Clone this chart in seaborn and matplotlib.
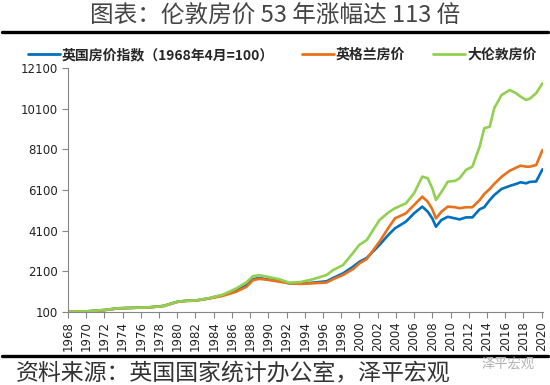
import matplotlib
matplotlib.use("Agg")
import matplotlib.pyplot as plt
from matplotlib.lines import Line2D
import pandas as pd
import seaborn as sns

# -----------------------------
# data (decimal years)
# -----------------------------
years = [1968.0, 1970.0, 1972.0, 1973.5, 1975.0, 1977.0, 1978.5, 1980.0, 1981.0,
         1982.0, 1983.5, 1985.0, 1986.5, 1987.6, 1988.3, 1989.0, 1989.8, 1991.2,
         1992.3, 1993.5, 1994.9, 1996.4, 1997.1, 1998.2, 1999.3, 2000.0, 2000.8,
         2002.2, 2003.2, 2003.9, 2005.1, 2006.0, 2006.9, 2007.5, 2008.0, 2008.4,
         2009.0, 2009.7, 2010.5, 2011.0, 2011.7, 2012.4, 2013.2, 2013.7, 2014.3,
         2014.8, 2015.6, 2016.5, 2017.2, 2017.7, 2018.3, 2018.7, 2019.4, 2020.1]

uk = [100, 115, 184, 268, 290, 320, 385, 590, 640,
      650, 760, 920, 1150, 1400, 1700, 1760, 1700, 1620,
      1500, 1480, 1530, 1600, 1760, 1990, 2320, 2560, 2750,
      3390, 3900, 4210, 4540, 4950, 5280, 5030, 4700, 4290,
      4620, 4780, 4700, 4650, 4750, 4750, 5150, 5250, 5600,
      5850, 6150, 6300, 6400, 6480, 6430, 6500, 6520, 7120]

england = [100, 112, 175, 260, 285, 315, 380, 580, 630,
           645, 750, 880, 1090, 1330, 1650, 1720, 1680, 1580,
           1500, 1470, 1500, 1540, 1700, 1910, 2200, 2480, 2700,
           3550, 4250, 4700, 4950, 5360, 5770, 5520, 5150, 4700,
           5030, 5280, 5250, 5200, 5250, 5250, 5600, 5900, 6150,
           6400, 6750, 7050, 7200, 7300, 7250, 7250, 7330, 8070]

london = [100, 115, 184, 268, 290, 317, 380, 593, 642,
          650, 770, 940, 1250, 1550, 1850, 1900, 1830, 1700,
          1530, 1560, 1700, 1910, 2150, 2400, 3000, 3400, 3630,
          4620, 5000, 5200, 5440, 5940, 6760, 6680, 6180, 5610,
          6000, 6510, 6550, 6680, 7090, 7250, 8240, 9140, 9220,
          10130, 10780, 11030, 10870, 10700, 10540, 10600, 10870, 11360]

names = ["英国房价指数（1968年4月=100）", "英格兰房价", "大伦敦房价"]
colors = ["#0070C0", "#E8711A", "#92D050"]

y_ticks = [100, 2100, 4100, 6100, 8100, 10100, 12100]
x_ticks = list(range(1968, 2021, 2))

df = pd.DataFrame({
    "year": years * 3,
    "value": uk + england + london,
    "series": [n for n in names for _ in years],
})

# -----------------------------
# style
# -----------------------------
sns.set_style("white")
plt.rcParams["font.family"] = ["Noto Sans CJK SC", "DejaVu Sans"]

fig = plt.figure(figsize=(5.5, 3.85), dpi=100)
ax = fig.add_axes([0.1236, 0.1904, 0.8636, 0.6322])

sns.lineplot(data=df, x="year", y="value", hue="series", hue_order=names,
             palette=colors, linewidth=1.9, sort=False, legend=False, ax=ax)

ax.set_xlim(1968, 2020.15)
ax.set_ylim(100, 12100)
ax.set_xticks(x_ticks)
ax.set_xticklabels([str(t) for t in x_ticks], rotation=90,
                   fontsize=8.5, family="DejaVu Sans", color="#222222")
ax.set_yticks(y_ticks)
ax.set_yticklabels([str(t) for t in y_ticks], fontsize=8.5,
                   family="DejaVu Sans", color="#222222")
ax.set_xlabel("")
ax.set_ylabel("")
ax.tick_params(axis="both", bottom=True, left=True, length=4, width=0.8,
               color="#868686", direction="out", pad=3)
for side in ["top", "right"]:
    ax.spines[side].set_visible(False)
for side in ["left", "bottom"]:
    ax.spines[side].set_color("#868686")
    ax.spines[side].set_linewidth(0.8)

# legend on top
handles = [Line2D([0], [0], color=c, lw=2) for c in colors]
fig.legend(handles, names, loc="center", bbox_to_anchor=(0.513, 0.857), ncol=3,
           frameon=False, prop={"weight": "bold", "size": 10},
           handlelength=2.3, handletextpad=0.15, columnspacing=2.0)

# title, rules and source
fig.text(0.5, 1 - 16 / 385, "图表：伦敦房价 53 年涨幅达 113 倍",
         ha="center", va="center", fontsize=17, weight="light", color="#444444")
fig.add_artist(Line2D([0.004, 0.996], [1 - 31.7 / 385] * 2, lw=2.4, color="black"))
fig.add_artist(Line2D([0.004, 0.996], [1 - 355.7 / 385] * 2, lw=2.4, color="black"))
fig.text(16 / 550, 1 - 373 / 385, "资料来源：英国国家统计办公室，泽平宏观",
         ha="left", va="center", fontsize=16.5, weight="light", color="#333333")
fig.text(481 / 550, 1 - 364 / 385, "泽平宏观", ha="left", va="center",
         fontsize=9.5, color="#b0b0b0")

fig.savefig("out.png", dpi=100)
